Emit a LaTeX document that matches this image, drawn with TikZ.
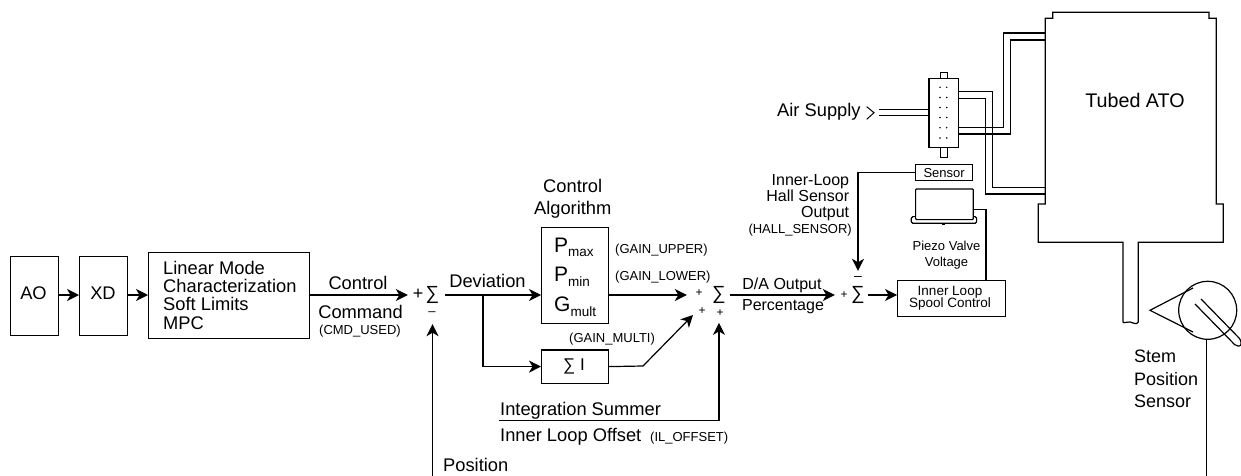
\documentclass[tikz,border=0pt]{standalone}
\usepackage{fontspec}
\setmainfont{Liberation Sans}
\usetikzlibrary{arrows.meta}
\newcommand{\fs}[1]{\fontsize{#1}{#1}\selectfont}
\newcommand{\bigsub}[2]{{\fs{21}#1}\raisebox{-4.5pt}{\fs{13.5}#2}}
\tikzset{
  ln/.style={line width=1.2pt,line join=miter},
  arr/.style={ln,-{Stealth[length=12pt,width=12pt,inset=3.5pt]}},
  box/.style={draw,ln,inner sep=0pt,anchor=north west},
  lab/.style={inner sep=0pt,font=\fs{18.3}},
  labm/.style={inner sep=0pt,font=\fs{16}},
  labs/.style={inner sep=0pt,font=\fs{13}},
  sumn/.style={inner sep=0pt,minimum width=20pt,minimum height=20pt,font=\fs{19}},
  sign/.style={inner sep=0pt,font=\fs{12}},
  tube/.style={ln},
}
\begin{document}
\begin{tikzpicture}[x=1pt,y=-1pt]
\useasboundingbox (0,0) rectangle (1241,476);
% ---------- left chain
\node[box,minimum width=48pt,minimum height=79.5pt] (ao) at (9.5,255.5) {};
\node[lab,anchor=base] (aotxt) at (33.5,299) {AO};
\node[box,minimum width=48pt,minimum height=79.5pt] (xd) at (79,255.5) {};
\node[lab,anchor=base] (xdtxt) at (103,299) {XD};
\node[box,minimum width=161pt,minimum height=86pt] (lin) at (148,252) {};
\node[lab,anchor=base west,align=left] (lintxt) at (163,329) {Linear Mode\\Characterization\\Soft Limits\\MPC};
\node[lab,anchor=base] (ctl) at (358,289) {Control};
\node[lab,anchor=base] (cmd) at (360.5,318) {Command};
\node[labs,anchor=base] (cmdu) at (360,334) {(CMD\_USED)};
\draw[arr] (ao.east |- 0,295) -- (xd.west |- 0,295);
\draw[arr] (xd.east |- 0,295) -- (lin.west |- 0,295);
% ---------- first summer
\node[sumn] (s1) at (432.5,295) {∑};
\node[sign,font=\fs{18}] (s1p) at (418,294) {+};
\node[sign,font=\fs{13}] (s1m) at (432,313.7) {–};
\coordinate (fb) at (432.5,476);
\draw[arr,shorten >=14.5pt] (lin.east |- s1) -- (s1.west);
\draw[arr,shorten >=19pt] (fb) -- (s1.south);
\node[lab,anchor=base west] (pos) at (443,471.5) {Position};
% ---------- control algorithm
\node[lab,anchor=base,align=center] (alg) at (572.7,214) {Control\\[3pt]Algorithm};
\node[box,minimum width=67pt,minimum height=96pt] (pbox) at (541,226.7) {};
\node[inner sep=0pt,anchor=base west] (pmax) at (554,252.3) {\bigsub{P}{max}};
\node[inner sep=0pt,anchor=base west] (pmin) at (554,281.7) {\bigsub{P}{min}};
\node[inner sep=0pt,anchor=base west] (gmul) at (554,311.7) {\bigsub{G}{mult}};
\node[box,minimum width=67pt,minimum height=33.4pt] (ibox) at (541,349.3) {};
\node[inner sep=0pt,font=\fs{17}] (itxt) at (574,366) {∑ I};
\node[lab,anchor=base] (dev) at (487.5,287.7) {Deviation};
\coordinate (br) at (483,295);
\draw[arr,shorten <=2.5pt] (s1.east) -- (pbox.west |- s1);
\draw[arr] (br) |- (ibox.west);
\node[labs,anchor=base west] (gu) at (615,253) {(GAIN\_UPPER)};
\node[labs,anchor=base west] (gl) at (615,280) {(GAIN\_LOWER)};
\node[labs,anchor=base west] (gm) at (569,342) {(GAIN\_MULTI)};
% ---------- second summer
\node[sumn] (s2) at (719,295) {∑};
\node[sign] (s2a) at (699,293) {+};
\node[sign] (s2b) at (702,311) {+};
\node[sign] (s2c) at (720,313) {+};
\coordinate (bend) at (643,366);
\coordinate (tipb) at (693,315);
\draw[arr,shorten >=22pt] (pbox.east |- s2) -- (s2.west);
\draw[arr] (ibox.east) -- (bend) -- (tipb);
\coordinate (ilc) at (499,420.7);
\draw[arr,shorten >=17.7pt] (ilc) -| (s2.south);
\node[lab,anchor=base west] (isum) at (500,415) {Integration Summer};
\node[lab,anchor=base west] (ilo) at (500,441.7) {Inner Loop Offset};
\node[labs,anchor=base west] (ilu) at (650,441) {(IL\_OFFSET)};
% ---------- third summer
\node[sumn] (s3) at (858,295) {∑};
\node[sign] (s3p) at (844,295) {+};
\node[sign,font=\fs{14}] (s3m) at (858,278) {–};
\node[labm,anchor=base] (da) at (782,289) {D/A Output};
\node[labm,anchor=base] (pct) at (783,310) {Percentage};
\draw[arr,shorten <=1pt,shorten >=13pt] (s2.east) -- (s3.west);
\node[box,minimum width=107.5pt,minimum height=35.7pt] (spool) at (897,280) {};
\node[inner sep=0pt,font=\fs{13.5},anchor=base,align=center] (spooltxt) at (950,307.7) {Inner Loop\\[-1.3pt]Spool Control};
\draw[arr] (s3.east) -- (spool.west |- s3);
% ---------- sensor and piezo
\node[box,minimum width=57pt,minimum height=16pt,font=\fs{13}] (sens) at (915,164) {Sensor};
\draw[arr,shorten >=14pt] (sens.west) -| (s3.north);
\node[labm,anchor=base east,align=right] (hall) at (849.3,217.7) {Inner-Loop\\Hall Sensor\\Output};
\node[labs,anchor=base east] (halls) at (852,233) {(HALL\_SENSOR)};
\node[draw,ln,inner sep=0pt,anchor=north west,minimum width=65.3pt,minimum height=6.7pt,rounded corners=1.5pt] (plate) at (910.7,216) {};
\node[draw,ln,fill=white,inner sep=0pt,anchor=north west,minimum width=57.7pt,minimum height=30.7pt,rounded corners=1pt] (piezo) at (915,188.3) {};
\node[fill=black,inner sep=0pt,minimum width=3pt,minimum height=2.5pt] (pin) at (943.5,224) {};
\node[labs,anchor=base,align=center] (pv) at (946.5,266) {Piezo Valve\\[3pt]Voltage};
\coordinate (pout) at (972.7,209.3);
\draw[ln] (pout) -| (spool.north -| 986,0);
% ---------- air supply and spool valve
\node[box,minimum width=29.4pt,minimum height=69pt] (valve) at (928.3,77.7) {};
\node[box,minimum width=7pt,minimum height=6pt] (stub1) at (940,71.7) {};
\node[box,minimum width=7pt,minimum height=10.3pt] (stub2) at (940,146.7) {};
\foreach \yy in {87.3,97.5,107.5,117.5,127.7,138}{
  \fill (940,\yy) circle (0.8pt);
  \fill (946.7,\yy) circle (0.8pt);
}
\node[lab,anchor=base west] (air) at (777,116.7) {Air Supply};
\coordinate (chev) at (874,112.7);
\draw[line width=1pt] (866.7,106.7) -- (chev) -- (866.7,119.3);
\coordinate (a1) at (879,109.7);
\coordinate (a2) at (879,115.7);
\draw[tube] (a1) -- (valve.west |- a1);
\draw[tube] (a2) -- (valve.west |- a2);
% ---------- actuator
\draw[ln] (1045.3,204) -- (1045.3,18.3) -- (1052.7,18.3) -- (1052.7,12.3) -- (1209,12.3) -- (1209,18.3) -- (1216.3,18.3) -- (1216.3,204) -- (1223.3,204) -- (1223.3,242.3) -- (1138.3,242.3) -- (1138.3,322)
  .. controls (1137,325) and (1133,323) .. (1130,322) .. controls (1127,321) and (1124,324) .. (1123,322)
  -- (1123,242.3) -- (1038.3,242.3) -- (1038.3,204) -- cycle;
\node[inner sep=0pt,font=\fs{19.7},anchor=base] (ato) at (1135,107) {Tubed ATO};
\coordinate (t1) at (1045.3,187.3);
\coordinate (t2) at (1045.3,194);
\coordinate (t3) at (1045.3,33);
\coordinate (t4) at (1045.3,40);
\coordinate (v1) at (957.7,91.7);
\coordinate (v2) at (957.7,98.3);
\coordinate (v3) at (957.7,127.3);
\coordinate (v4) at (957.7,134);
\draw[tube] (v1) -| (992.3,187.3) -- (t1);
\draw[tube] (v2) -| (985.7,194) -- (t2);
\draw[tube] (v3) -| (1003.3,33) -- (t3);
\draw[tube] (v4) -| (1010.3,40) -- (t4);
% ---------- stem position sensor
\draw[ln] (1207.7,310.3) circle (29pt);
\draw[ln] (1193,288) -- (1150,310.3) -- (1193,332);
\draw[ln,rounded corners=2pt] (1195,304) -- (1236,346) -- (1241,346) -- (1241,340) -- (1201,299);
\coordinate (fbs) at (1206.7,476);
\draw[ln] (1206.7,339.3) -- (fbs);
\node[lab,anchor=base west,align=left,font=\fontsize{18}{22.5}\selectfont] (stem) at (1134,407.7) {Stem\\Position\\Sensor};
\end{tikzpicture}
\end{document}
